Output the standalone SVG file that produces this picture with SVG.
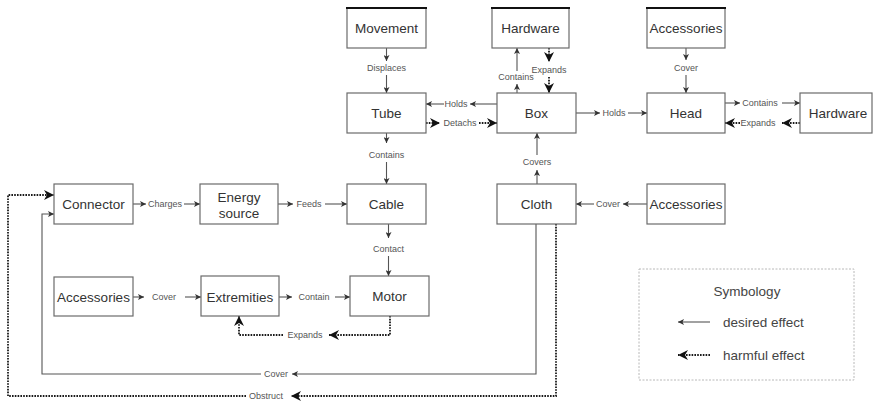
<svg xmlns="http://www.w3.org/2000/svg" width="873" height="401" viewBox="0 0 873 401">
  <style>
    .box { fill: #ffffff; stroke: #6b6b6b; stroke-width: 1.2; }
    .topedge { stroke: #111; stroke-width: 2; }
    .name { font-family: "Liberation Sans", Arial, sans-serif; font-size: 13.5px; fill: #333; text-anchor: middle; dominant-baseline: central; }
    .lbl { font-family: "Liberation Sans", Arial, sans-serif; font-size: 9px; fill: #555; text-anchor: middle; dominant-baseline: central; }
    .good { fill: none; stroke: #555; stroke-width: 1.1; marker-end: url(#arrow); }
    .bad { fill: none; stroke: #1a1a1a; stroke-width: 1.8; stroke-dasharray: 1.6 1.2; marker-end: url(#harm); }
    .plain { fill: none; stroke: #555; stroke-width: 1.1; }
    .plainbad { fill: none; stroke: #1a1a1a; stroke-width: 1.8; stroke-dasharray: 1.6 1.2; }
    .legend { fill: #ffffff; stroke: #b8b8b8; stroke-width: 1; stroke-dasharray: 2 1.5; }
    .legtext { font-family: "Liberation Sans", Arial, sans-serif; font-size: 13.5px; fill: #444; dominant-baseline: central; }
  </style>
  <defs>
    <marker id="arrow" markerUnits="userSpaceOnUse" markerWidth="7" markerHeight="6" refX="6" refY="3" orient="auto">
      <path d="M0,0 L6,3 L0,6 L1.5,3 z" fill="#333"/>
    </marker>
    <marker id="harm" markerUnits="userSpaceOnUse" markerWidth="11" markerHeight="10" refX="10" refY="5" orient="auto">
      <path d="M0,0 L10,5 L0,10 L3,5 z" fill="#111"/>
    </marker>
  </defs>

  <rect width="873" height="401" fill="#ffffff"/>

  <!-- connectors -->
  <g id="connectors">
    <!-- Movement -> Tube -->
    <path class="good" d="M386.5,48 L386.5,61"/>
    <text class="lbl" x="386.5" y="68">Displaces</text>
    <path class="good" d="M386.5,75 L386.5,93"/>

    <!-- Box -> Hardware (top) -->
    <path class="good" d="M517,93 L517,84"/>
    <text class="lbl" x="516" y="77">Contains</text>
    <path class="good" d="M517,71 L517,48"/>

    <!-- Hardware (top) -> Box -->
    <path class="bad" d="M549,48 L549,62"/>
    <text class="lbl" x="549" y="70">Expands</text>
    <path class="bad" d="M549,77 L549,93"/>

    <!-- Accessories (top) -> Head -->
    <path class="good" d="M686,48 L686,60"/>
    <text class="lbl" x="686" y="68">Cover</text>
    <path class="good" d="M686,75 L686,93"/>

    <!-- Box -> Tube -->
    <path class="good" d="M497,104 L470,104"/>
    <text class="lbl" x="456" y="104">Holds</text>
    <path class="good" d="M444,104 L426,104"/>

    <!-- Tube -> Box -->
    <path class="bad" d="M426,123 L440,123"/>
    <text class="lbl" x="460" y="123">Detachs</text>
    <path class="bad" d="M479,123 L497,123"/>

    <!-- Box -> Head -->
    <path class="good" d="M576,113 L600,113"/>
    <text class="lbl" x="614" y="113">Holds</text>
    <path class="good" d="M628,113 L647,113"/>

    <!-- Head -> Hardware (right) -->
    <path class="good" d="M725,103 L740,103"/>
    <text class="lbl" x="760" y="103">Contains</text>
    <path class="good" d="M782,103 L800,103"/>

    <!-- Hardware (right) -> Head -->
    <path class="bad" d="M800,123 L782,123"/>
    <text class="lbl" x="758" y="123">Expands</text>
    <path class="bad" d="M740,123 L725,123"/>

    <!-- Tube -> Cable -->
    <path class="good" d="M386.5,133 L386.5,143"/>
    <text class="lbl" x="386.5" y="155">Contains</text>
    <path class="good" d="M386.5,162 L386.5,184"/>

    <!-- Cloth -> Box -->
    <path class="good" d="M537,184 L537,170"/>
    <text class="lbl" x="537" y="162">Covers</text>
    <path class="good" d="M537,155 L537,133"/>

    <!-- Connector -> Energy source -->
    <path class="good" d="M133,204 L146,204"/>
    <text class="lbl" x="165" y="204">Charges</text>
    <path class="good" d="M184,204 L200,204"/>

    <!-- Energy source -> Cable -->
    <path class="good" d="M278,204 L293,204"/>
    <text class="lbl" x="309" y="204">Feeds</text>
    <path class="good" d="M325,204 L347,204"/>

    <!-- Accessories (right) -> Cloth -->
    <path class="good" d="M647,204 L623,204"/>
    <text class="lbl" x="608" y="204">Cover</text>
    <path class="good" d="M594,204 L576,204"/>

    <!-- Cable -> Motor -->
    <path class="good" d="M388.5,224 L388.5,238"/>
    <text class="lbl" x="388.5" y="249">Contact</text>
    <path class="good" d="M388.5,256 L388.5,276"/>

    <!-- Accessories (bottom) -> Extremities -->
    <path class="good" d="M133,297 L144,297"/>
    <text class="lbl" x="164" y="297">Cover</text>
    <path class="good" d="M185,297 L201,297"/>

    <!-- Extremities -> Motor -->
    <path class="good" d="M279,297 L292,297"/>
    <text class="lbl" x="314" y="297">Contain</text>
    <path class="good" d="M335,297 L350,297"/>

    <!-- Motor -> Extremities -->
    <path class="bad" d="M390,316 L390,335 L329,335"/>
    <text class="lbl" x="305" y="335">Expands</text>
    <path class="bad" d="M283,335 L239,335 L239,316"/>

    <!-- Cloth -> Connector -->
    <path class="good" d="M536,224 L536,374 L292,374"/>
    <text class="lbl" x="276" y="374">Cover</text>
    <path class="good" d="M261,374 L42,374 L42,214 L54,214"/>

    <!-- Cloth -> Connector (harmful) -->
    <path class="bad" d="M556,224 L556,396 L291,396"/>
    <text class="lbl" x="266" y="396">Obstruct</text>
    <path class="bad" d="M246,396 L8,396 L8,195 L54,195"/>
  </g>

  <!-- nodes -->
  <g id="movement">
    <rect class="box" x="347" y="8" width="79" height="40"/>
    <line class="topedge" x1="346" y1="8" x2="427" y2="8"/>
    <text class="name" x="386.5" y="28">Movement</text>
  </g>
  <g id="hardware-top">
    <rect class="box" x="492" y="8" width="77" height="40"/>
    <line class="topedge" x1="491" y1="8" x2="570" y2="8"/>
    <text class="name" x="530.5" y="28">Hardware</text>
  </g>
  <g id="accessories-top">
    <rect class="box" x="647" y="8" width="78" height="40"/>
    <line class="topedge" x1="646" y1="8" x2="726" y2="8"/>
    <text class="name" x="686" y="28">Accessories</text>
  </g>
  <g id="tube">
    <rect class="box" x="347" y="93" width="79" height="40"/>
    <text class="name" x="386.5" y="113">Tube</text>
  </g>
  <g id="box">
    <rect class="box" x="497" y="93" width="79" height="40"/>
    <text class="name" x="536.5" y="113">Box</text>
  </g>
  <g id="head">
    <rect class="box" x="647" y="93" width="78" height="40"/>
    <text class="name" x="686" y="113">Head</text>
  </g>
  <g id="hardware-right">
    <rect class="box" x="800" y="93" width="72" height="40"/>
    <text class="name" x="838" y="113">Hardware</text>
  </g>
  <g id="connector">
    <rect class="box" x="54" y="184" width="79" height="40"/>
    <text class="name" x="93.5" y="204">Connector</text>
  </g>
  <g id="energy-source">
    <rect class="box" x="200" y="184" width="78" height="40"/>
    <text class="name" x="239" y="197">Energy</text>
    <text class="name" x="239" y="213">source</text>
  </g>
  <g id="cable">
    <rect class="box" x="347" y="184" width="79" height="40"/>
    <text class="name" x="386.5" y="204">Cable</text>
  </g>
  <g id="cloth">
    <rect class="box" x="497" y="184" width="79" height="40"/>
    <text class="name" x="536.5" y="204">Cloth</text>
  </g>
  <g id="accessories-right">
    <rect class="box" x="647" y="184" width="78" height="40"/>
    <text class="name" x="686" y="204">Accessories</text>
  </g>
  <g id="accessories-bottom">
    <rect class="box" x="54" y="277" width="79" height="39"/>
    <text class="name" x="93.5" y="297">Accessories</text>
  </g>
  <g id="extremities">
    <rect class="box" x="201" y="276" width="78" height="40"/>
    <text class="name" x="240" y="297">Extremities</text>
  </g>
  <g id="motor">
    <rect class="box" x="350" y="276" width="79" height="40"/>
    <text class="name" x="389.5" y="296">Motor</text>
  </g>

  <!-- legend -->
  <g id="symbology">
    <rect class="legend" x="639" y="269" width="215" height="111"/>
    <text class="legtext" x="747" y="291" text-anchor="middle">Symbology</text>
    <path class="good" d="M710,322 L678,322"/>
    <text class="legtext" x="723" y="322">desired effect</text>
    <path class="bad" d="M710,355 L678,355"/>
    <text class="legtext" x="723" y="355">harmful effect</text>
  </g>
</svg>
